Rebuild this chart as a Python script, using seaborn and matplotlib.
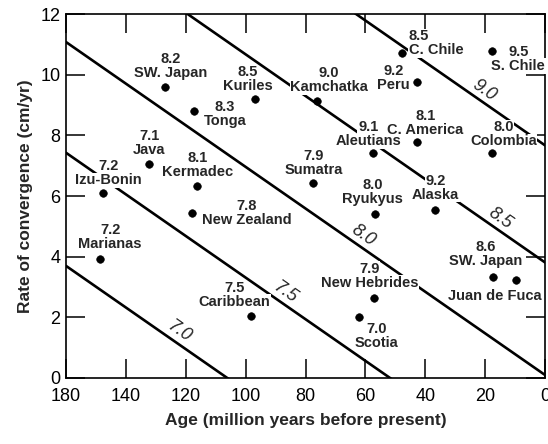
import numpy as np
import pandas as pd
import matplotlib
matplotlib.use("Agg")
import matplotlib.pyplot as plt
import seaborn as sns

# ---------------- data ----------------
names = ["SW. Japan", "Kuriles", "Tonga", "Java", "Kermadec", "Izu-Bonin",
         "New Zealand", "Marianas", "Caribbean", "C. Chile", "S. Chile", "Peru",
         "Kamchatka", "C. America", "Colombia", "Aleutians", "Sumatra",
         "Ryukyus", "Alaska", "SW. Japan", "Juan de Fuca", "New Hebrides", "Scotia"]
magnitudes = ["8.2", "8.5", "8.3", "7.1", "8.1", "7.2",
              "7.8", "7.2", "7.5", "8.5", "9.5", "9.2",
              "9.0", "8.1", "8.0", "9.1", "7.9",
              "8.0", "9.2", "8.6", "", "7.9", "7.0"]
ages = [127.0, 97.0, 117.2, 132.2, 116.3, 147.8,
        117.8, 148.6, 98.1, 47.8, 17.6, 42.6,
        76.1, 42.6, 17.6, 57.4, 77.4,
        56.7, 36.9, 17.4, 9.7, 57.0, 62.2]
rates = [9.58, 9.19, 8.79, 7.06, 6.33, 6.09,
         5.43, 3.92, 2.05, 10.70, 10.78, 9.77,
         9.13, 7.78, 7.41, 7.41, 6.44,
         5.41, 5.55, 3.32, 3.23, 2.65, 2.02]

# iso-magnitude lines: rate = intercept + slope * age
line_levels = ["7.0", "7.5", "8.0", "8.5", "9.0"]
line_intercepts = [-7.28, -3.55, 0.10, 3.81, 7.67]
line_slope = 0.0686

x_tick_pos = [160, 140, 120, 100, 80, 60, 40, 20, 0]
x_tick_labels = ["180", "140", "120", "100", "80", "60", "40", "20", "0"]
y_ticks = [0, 2, 4, 6, 8, 10, 12]

# ---------------- layout (label block offsets in pixels) ----------------
label_offsets = [(6, 21), (-7, 20), (31, -3), (0, 21), (1, 21), (6, 20),
                 (54, 0), (10, 22), (-17, 21), (7, 10), (26, -8), (-24, 4),
                 (12, 21), (8, 19), (11, 19), (-5, 19), (0, 20),
                 (-3, 22), (1, 22), (-7, 23), (-21, -16), (-5, 22), (18, -19)]
left_aligned = ["C. Chile"]
line_gap = 14  # pixels between the number line and the name line
line_label_ages = [122.2, 86.7, 60.6, 15.0, 20.3]

df = pd.DataFrame({"name": names, "mag": magnitudes, "age": ages, "rate": rates})

sns.set_style("ticks")
plt.rcParams["font.family"] = ["Liberation Sans", "DejaVu Sans"]

fig = plt.figure(figsize=(5.48, 4.44), dpi=100)
ax = fig.add_axes([66 / 548, 1 - 378 / 444, 479 / 548, 364 / 444])
ax.set_xlim(160, 0)
ax.set_ylim(0, 12)

# iso lines
for lev, b in zip(line_levels, line_intercepts):
    xs = np.array([160.0, 0.0])
    ys = b + line_slope * xs
    sns.lineplot(x=xs, y=ys, ax=ax, color="black", linewidth=1.9, zorder=1,
                 sort=False)

# line labels
for lev, b, a in zip(line_levels, line_intercepts, line_label_ages):
    p1 = ax.transData.transform((a + 5, b + line_slope * (a + 5)))
    p2 = ax.transData.transform((a - 5, b + line_slope * (a - 5)))
    ang = np.degrees(np.arctan2(p2[1] - p1[1], p2[0] - p1[0]))
    ax.annotate(lev, xy=(a, b + line_slope * a), xytext=(0, 13),
                textcoords="offset pixels", ha="center", va="center",
                rotation=ang, rotation_mode="anchor", fontsize=13,
                fontstyle="italic", zorder=2)

# points
sns.scatterplot(data=df, x="age", y="rate", ax=ax, color="black", s=30,
                edgecolor="black", zorder=5, legend=False)

txt_kw = dict(textcoords="offset pixels", va="center", fontsize=10.5,
              fontweight="bold", zorder=3,
              bbox=dict(facecolor="white", edgecolor="none", pad=0.4))
for (nm, mg, a, r), (dx, dy) in zip(zip(names, magnitudes, ages, rates), label_offsets):
    ha = "left" if nm in left_aligned else "center"
    if mg == "":
        ax.annotate(nm, xy=(a, r), xytext=(dx, dy), ha=ha, **txt_kw)
    else:
        ax.annotate(mg, xy=(a, r), xytext=(dx, dy + line_gap / 2), ha=ha, **txt_kw)
        ax.annotate(nm, xy=(a, r), xytext=(dx, dy - line_gap / 2), ha=ha, **txt_kw)

ax.set_xticks(x_tick_pos)
ax.set_xticklabels(x_tick_labels)
ax.set_yticks(y_ticks)
ax.tick_params(direction="in", length=14, width=1.1, top=True, right=True,
               labelsize=13, color="black", labelcolor="black")
ax.tick_params(axis="y", pad=4)
ax.tick_params(axis="x", pad=7)
for sp in ax.spines.values():
    sp.set_visible(True)
    sp.set_linewidth(1.2)
    sp.set_color("black")

ax.set_xlabel("Age (million years before present)", fontsize=12.5,
              fontweight="bold", labelpad=6)
ax.set_ylabel("Rate of convergence (cm/yr)", fontsize=12.5,
              fontweight="bold", labelpad=5)

fig.savefig("out.png", dpi=100, facecolor="white")
